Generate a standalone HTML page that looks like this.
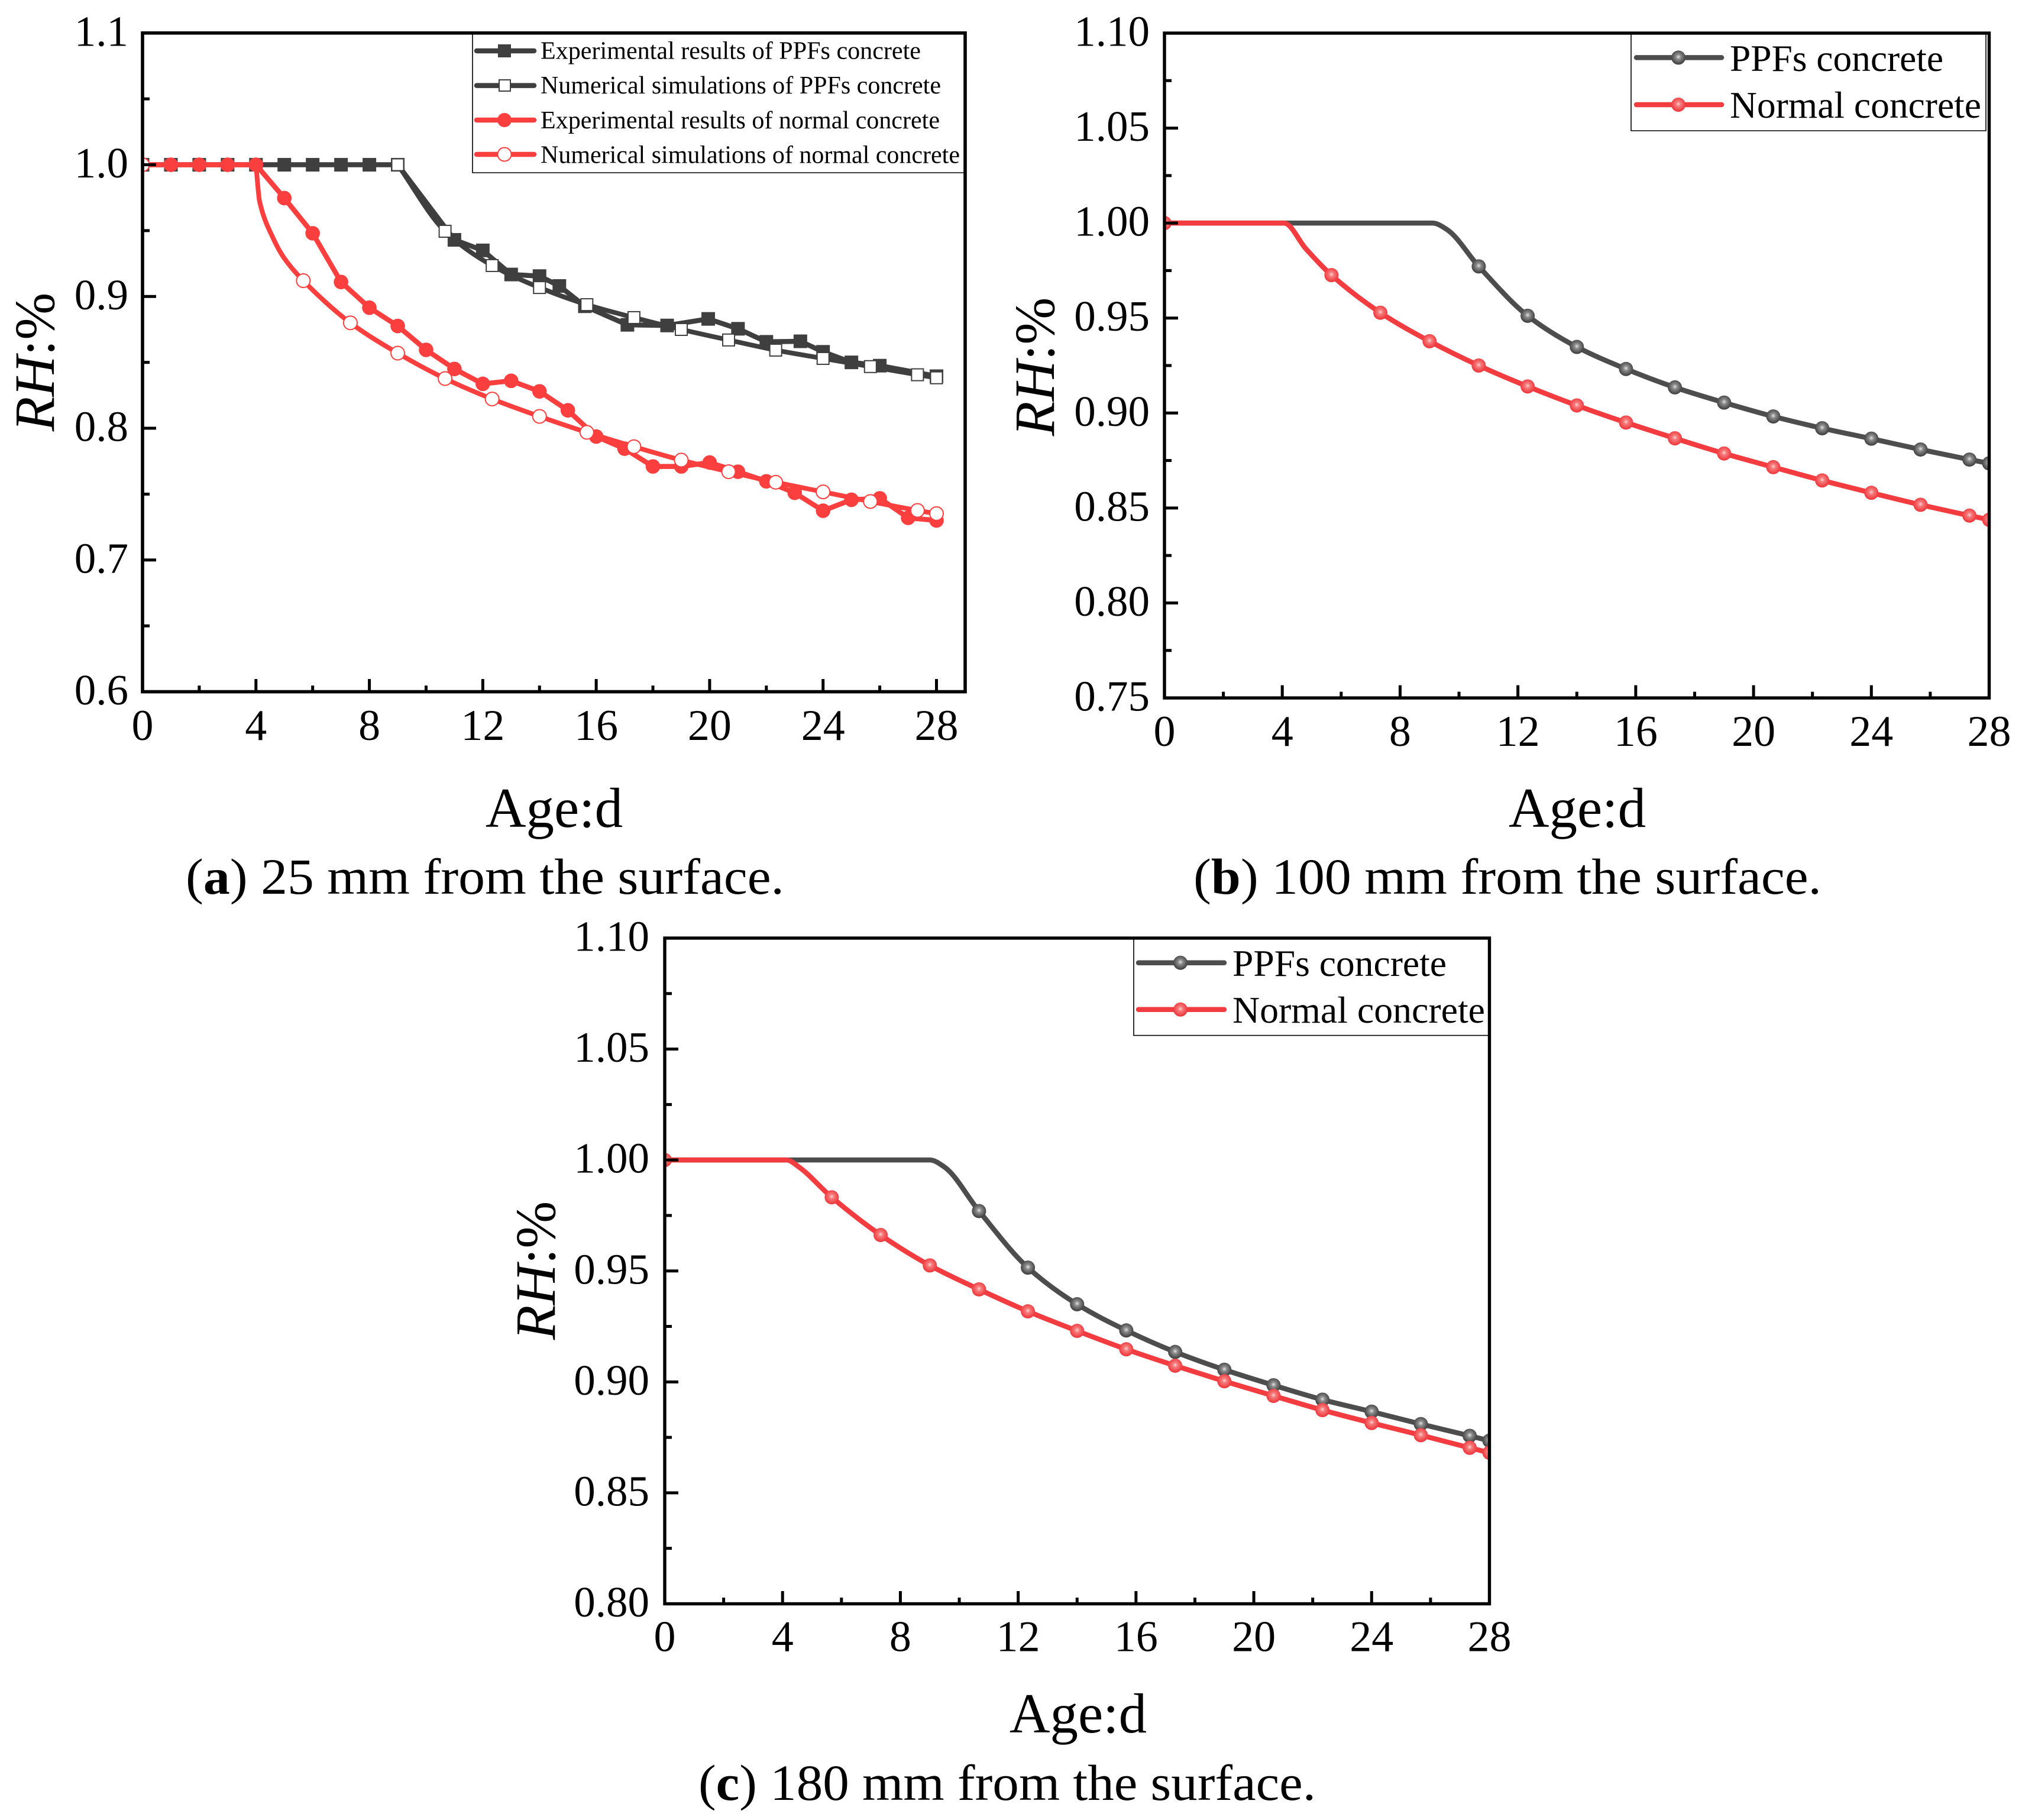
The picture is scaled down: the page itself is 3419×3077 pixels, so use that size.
<!DOCTYPE html>
<html lang="en">
<head>
<meta charset="utf-8">
<title>Relative humidity vs age at three depths</title>
<style>
html,body{margin:0;padding:0;background:#fff;}
svg{display:block;font-family:"Liberation Serif",serif;}
</style>
</head>
<body>
<svg id="figure" xmlns="http://www.w3.org/2000/svg" width="3419" height="3077" viewBox="0 0 3419 3077">
  <defs>
    <radialGradient id="ball-gray" cx="50%" cy="45%" r="55%">
      <stop offset="0%" stop-color="#e4e4e4"/><stop offset="30%" stop-color="#8d8d8d"/><stop offset="100%" stop-color="#3a3a3a"/>
    </radialGradient>
    <radialGradient id="ball-red" cx="50%" cy="45%" r="55%">
      <stop offset="0%" stop-color="#fbd4d4"/><stop offset="30%" stop-color="#f67a7a"/><stop offset="100%" stop-color="#ee3238"/>
    </radialGradient>
    <clipPath id="clip-a"><rect x="241" y="55.8" width="1391" height="1113.7"/></clipPath>
    <clipPath id="clip-b"><rect x="1969" y="56" width="1394.5" height="1124"/></clipPath>
    <clipPath id="clip-c"><rect x="1124" y="1586" width="1394.5" height="1125.5"/></clipPath>
  </defs>
  <rect x="0" y="0" width="3419" height="3077" fill="#fff"/>

  <!-- Panel (a) -->
  <g>
    <g id="a-series" clip-path="url(#clip-a)"></g>
    <g id="a-ticks"></g>
    <rect x="241" y="55.8" width="1391" height="1113.7" fill="none" stroke="#000" stroke-width="5.6"/>
    <text transform="translate(91 612) rotate(-90)" text-anchor="middle" font-size="96"><tspan font-style="italic">RH</tspan>:%</text>
    <text x="937" y="1398" text-anchor="middle" font-size="95">Age:d</text>
    <text x="314" y="1511" font-size="86" textLength="1012" lengthAdjust="spacingAndGlyphs">(<tspan font-weight="bold">a</tspan>) 25 mm from the surface.</text>
    <g>
      <path d="M799 58V292H1630" fill="none" stroke="#000" stroke-width="1.6"/>
      <g>
        <line x1="806" y1="86" x2="903" y2="86" stroke="#3f3f3f" stroke-width="8.5" stroke-linecap="round"/>
        <rect x="842" y="75" width="22" height="22" fill="#3f3f3f"/>
        <text x="914" y="99.5" font-size="42" textLength="643" lengthAdjust="spacingAndGlyphs">Experimental results of PPFs concrete</text>
      </g>
      <g>
        <line x1="806" y1="144.6" x2="903" y2="144.6" stroke="#3f3f3f" stroke-width="8.5" stroke-linecap="round"/>
        <rect x="844" y="135" width="19" height="19" fill="#fff" stroke="#3f3f3f" stroke-width="2"/>
        <text x="914" y="158" font-size="42" textLength="677" lengthAdjust="spacingAndGlyphs">Numerical simulations of PPFs concrete</text>
      </g>
      <g>
        <line x1="806" y1="203" x2="903" y2="203" stroke="#fb3f3f" stroke-width="8.5" stroke-linecap="round"/>
        <circle cx="853" cy="203" r="12" fill="#fb3f3f"/>
        <text x="914" y="217" font-size="42" textLength="675" lengthAdjust="spacingAndGlyphs">Experimental results of normal concrete</text>
      </g>
      <g>
        <line x1="806" y1="261" x2="903" y2="261" stroke="#fb3f3f" stroke-width="8.5" stroke-linecap="round"/>
        <circle cx="853" cy="261" r="11.5" fill="#fff" stroke="#fb3f3f" stroke-width="2"/>
        <text x="914" y="275.5" font-size="42" textLength="709" lengthAdjust="spacingAndGlyphs">Numerical simulations of normal concrete</text>
      </g>
    </g>
  </g>

  <!-- Panel (b) -->
  <g>
    <g id="b-series" clip-path="url(#clip-b)"></g>
    <g id="b-ticks"></g>
    <rect x="1969" y="56" width="1394.5" height="1124" fill="none" stroke="#000" stroke-width="5.4"/>
    <text transform="translate(1782 620) rotate(-90)" text-anchor="middle" font-size="96"><tspan font-style="italic">RH</tspan>:%</text>
    <text x="2667" y="1398" text-anchor="middle" font-size="95">Age:d</text>
    <text x="2018" y="1511" font-size="86" textLength="1062" lengthAdjust="spacingAndGlyphs">(<tspan font-weight="bold">b</tspan>) 100 mm from the surface.</text>
    <g>
      <path d="M2758 58V221H3358V58" fill="none" stroke="#000" stroke-width="1.6"/>
      <g>
        <line x1="2767" y1="97.4" x2="2911" y2="97.4" stroke="#4d4d4d" stroke-width="8.5" stroke-linecap="round"/>
        <circle cx="2838" cy="97.4" r="12" fill="url(#ball-gray)"/>
        <text x="2925" y="120" font-size="63" textLength="361" lengthAdjust="spacingAndGlyphs">PPFs concrete</text>
      </g>
      <g>
        <line x1="2767" y1="177" x2="2911" y2="177" stroke="#f23c40" stroke-width="8.5" stroke-linecap="round"/>
        <circle cx="2838" cy="177" r="12" fill="url(#ball-red)"/>
        <text x="2925" y="199" font-size="63" textLength="425" lengthAdjust="spacingAndGlyphs">Normal concrete</text>
      </g>
    </g>
  </g>

  <!-- Panel (c) -->
  <g>
    <g id="c-series" clip-path="url(#clip-c)"></g>
    <g id="c-ticks"></g>
    <rect x="1124" y="1586" width="1394.5" height="1125.5" fill="none" stroke="#000" stroke-width="5.4"/>
    <text transform="translate(938 2148) rotate(-90)" text-anchor="middle" font-size="96"><tspan font-style="italic">RH</tspan>:%</text>
    <text x="1823" y="2929" text-anchor="middle" font-size="95">Age:d</text>
    <text x="1181" y="3043" font-size="86" textLength="1044" lengthAdjust="spacingAndGlyphs">(<tspan font-weight="bold">c</tspan>) 180 mm from the surface.</text>
    <g>
      <path d="M1917 1588V1750.6H2516" fill="none" stroke="#000" stroke-width="1.6"/>
      <g>
        <line x1="1925" y1="1627.7" x2="2070" y2="1627.7" stroke="#4d4d4d" stroke-width="8.5" stroke-linecap="round"/>
        <circle cx="1996" cy="1627.7" r="12" fill="url(#ball-gray)"/>
        <text x="2084" y="1650" font-size="63" textLength="362" lengthAdjust="spacingAndGlyphs">PPFs concrete</text>
      </g>
      <g>
        <line x1="1925" y1="1706.8" x2="2070" y2="1706.8" stroke="#f23c40" stroke-width="8.5" stroke-linecap="round"/>
        <circle cx="1996" cy="1706.8" r="12" fill="url(#ball-red)"/>
        <text x="2084" y="1729" font-size="63" textLength="427" lengthAdjust="spacingAndGlyphs">Normal concrete</text>
      </g>
    </g>
  </g>
</svg>

<script>
// ---------- shared axis categories ----------
const ageMajorTicks = [0, 4, 8, 12, 16, 20, 24, 28];
const ageMinorTicks = [2, 6, 10, 14, 18, 22, 26];
const simDays = [10.67, 12.33, 14, 15.67, 17.33, 19, 20.67, 22.33, 24, 25.67, 27.33, 28];

// ---------- panel (a) ----------
const aRhMajorTicks = ['0.6', '0.7', '0.8', '0.9', '1.0', '1.1'];
const aRhMinorTicks = [0.65, 0.75, 0.85, 0.95, 1.05];
const aExpPpfDays = [0, 1, 2, 3, 4, 5, 6, 7, 8, 9, 11, 12, 13, 14, 14.7, 15.6, 17.1, 18.5, 19.95, 21, 22, 23.2, 24, 25, 26, 28];
const aExpPpfValues = [1, 1, 1, 1, 1, 1, 1, 1, 1, 1, 0.943, 0.935, 0.9167, 0.9155, 0.908, 0.8926, 0.8785, 0.878, 0.883, 0.8755, 0.8656, 0.866, 0.858, 0.85, 0.8475, 0.8395];
const aSimPpfHeadDays = [0, 9];
const aSimPpfHeadValues = [1, 1];
const aSimPpfValues = [0.9495, 0.9235, 0.9068, 0.8938, 0.884, 0.875, 0.867, 0.8593, 0.853, 0.8468, 0.8406, 0.8383];
const aExpNormalDays = [0, 1, 2, 3, 4, 5, 6, 7, 8, 9, 10, 11, 12, 13, 14, 15, 16, 17, 18, 19, 20, 21, 22, 23, 24, 25, 26, 27, 28];
const aExpNormalValues = [1, 1, 1, 1, 1, 0.9747, 0.948, 0.911, 0.8915, 0.8776, 0.8595, 0.845, 0.8337, 0.836, 0.828, 0.8136, 0.7937, 0.7845, 0.771, 0.771, 0.774, 0.767, 0.7597, 0.751, 0.7374, 0.7457, 0.7468, 0.732, 0.73];
const aSimNormalDays = [0, 5.67, 7.33, 9, 10.67, 12.33, 14, 15.67, 17.33, 19, 20.67, 22.33, 24, 25.67, 27.33, 28];
const aSimNormalValues = [1, 0.912, 0.88, 0.857, 0.8377, 0.8222, 0.809, 0.7969, 0.786, 0.7758, 0.767, 0.759, 0.7517, 0.7444, 0.7376, 0.7352];
const aSimNormalKneeDays = [4, 4.13, 4.59, 5];
const aSimNormalKneeValues = [1, 0.972, 0.945, 0.929];

// ---------- panel (b) ----------
const bRhMajorTicks = ['0.75', '0.80', '0.85', '0.90', '0.95', '1.00', '1.05', '1.10'];
const bRhMinorTicks = [0.775, 0.825, 0.875, 0.925, 0.975, 1.025, 1.075];
const bPpfValues = [0.9772, 0.9512, 0.9348, 0.9232, 0.9135, 0.9055, 0.8982, 0.892, 0.8865, 0.8808, 0.8755, 0.8735];
const bPpfKneeDays = [0, 9.1, 9.6];
const bPpfKneeValues = [1, 1, 0.9965];
const bNormalDays = [0, 5.67, 7.33, 9, 10.67, 12.33, 14, 15.67, 17.33, 19, 20.67, 22.33, 24, 25.67, 27.33, 28];
const bNormalValues = [1, 0.9726, 0.9528, 0.9378, 0.925, 0.914, 0.904, 0.895, 0.8867, 0.8787, 0.8715, 0.8645, 0.858, 0.8517, 0.846, 0.8438];
const bNormalKneeDays = [4.06, 4.8];
const bNormalKneeValues = [1, 0.9865];

// ---------- panel (c) ----------
const cRhMajorTicks = ['0.80', '0.85', '0.90', '0.95', '1.00', '1.05', '1.10'];
const cRhMinorTicks = [0.825, 0.875, 0.925, 0.975, 1.025, 1.075];
const cPpfValues = [0.977, 0.9515, 0.935, 0.9232, 0.9135, 0.9055, 0.8985, 0.892, 0.8866, 0.881, 0.8757, 0.8735];
const cPpfKneeDays = [0, 9.0, 9.5];
const cPpfKneeValues = [1, 1, 0.9968];
const cNormalDays = [0, 5.67, 7.33, 9, 10.67, 12.33, 14, 15.67, 17.33, 19, 20.67, 22.33, 24, 25.67, 27.33, 28];
const cNormalValues = [1, 0.9832, 0.9662, 0.9525, 0.9417, 0.9318, 0.923, 0.9147, 0.9073, 0.9003, 0.8937, 0.8873, 0.8815, 0.876, 0.8703, 0.8681];
const cNormalKneeDays = [4.14, 4.56];
const cNormalKneeValues = [1, 0.9968];

// ---------- helpers ----------
const SVG_NS = 'http://www.w3.org/2000/svg';
function make(tag, attrs, parent) {
  const node = document.createElementNS(SVG_NS, tag);
  for (const key in attrs) node.setAttribute(key, attrs[key]);
  parent.appendChild(node);
  return node;
}
function linearScale(d0, d1, r0, r1) {
  return function (v) { return r0 + (v - d0) * (r1 - r0) / (d1 - d0); };
}
function straightPath(pts) {
  return pts.map(function (p, i) { return (i ? 'L' : 'M') + p[0].toFixed(2) + ' ' + p[1].toFixed(2); }).join('');
}
function monotonePath(pts, sharpKnee) {
  const n = pts.length, dx = [], m = [], t = [];
  for (let i = 0; i < n - 1; i++) {
    dx[i] = pts[i + 1][0] - pts[i][0];
    m[i] = (pts[i + 1][1] - pts[i][1]) / dx[i];
  }
  t[0] = m[0];
  t[n - 1] = m[n - 2];
  for (let i = 1; i < n - 1; i++) {
    if (sharpKnee && m[i - 1] === 0) {
      t[i] = m[i];
    } else {
      t[i] = m[i - 1] * m[i] <= 0 ? 0 : 2 * m[i - 1] * m[i] / (m[i - 1] + m[i]);
    }
  }
  let d = 'M' + pts[0][0].toFixed(2) + ' ' + pts[0][1].toFixed(2);
  for (let i = 0; i < n - 1; i++) {
    if (sharpKnee && m[i] === 0) {
      d += 'L' + pts[i + 1][0].toFixed(2) + ' ' + pts[i + 1][1].toFixed(2);
      continue;
    }
    const h = dx[i] / 3;
    d += 'C' + (pts[i][0] + h).toFixed(2) + ' ' + (pts[i][1] + t[i] * h).toFixed(2) + ' ' +
      (pts[i + 1][0] - h).toFixed(2) + ' ' + (pts[i + 1][1] - t[i + 1] * h).toFixed(2) + ' ' +
      pts[i + 1][0].toFixed(2) + ' ' + pts[i + 1][1].toFixed(2);
  }
  return d;
}
function mergeVertices(days1, vals1, days2, vals2) {
  const merged = [];
  days1.forEach(function (d, i) { merged.push([d, vals1[i]]); });
  days2.forEach(function (d, i) { merged.push([d, vals2[i]]); });
  merged.sort(function (p, q) { return p[0] - q[0]; });
  return merged;
}

function drawAxes(panel) {
  const parent = document.getElementById(panel.id + '-ticks');
  ageMajorTicks.forEach(function (d) {
    const tick = make('line', { x1: panel.x(d), x2: panel.x(d), y1: panel.bottom, y2: panel.bottom - 21.5, stroke: '#000', 'stroke-width': 5 }, parent);
    
    
    const label = make('text', { x: panel.x(d), y: panel.xLabelY, 'text-anchor': 'middle', 'font-size': 74 }, parent);
    label.textContent = String(d);
    
    
  });
  ageMinorTicks.forEach(function (d) {
    const tick = make('line', { x1: panel.x(d), x2: panel.x(d), y1: panel.bottom, y2: panel.bottom - 10.5, stroke: '#000', 'stroke-width': 5 }, parent);
    
    
  });
  panel.majorTicks.forEach(function (text) {
    const v = parseFloat(text);
    const tick = make('line', { x1: panel.left, x2: panel.left + 23, y1: panel.y(v), y2: panel.y(v), stroke: '#000', 'stroke-width': 5 }, parent);
    
    
    const label = make('text', { x: panel.yLabelX, y: panel.y(v) + 21.5, 'text-anchor': 'end', 'font-size': 73 }, parent);
    label.textContent = text;
    
    
  });
  panel.minorTicks.forEach(function (v) {
    const tick = make('line', { x1: panel.left, x2: panel.left + 12, y1: panel.y(v), y2: panel.y(v), stroke: '#000', 'stroke-width': 5 }, parent);
    
    
  });
}

function drawMarker(group, kind, color, px, py) {
  let mark;
  if (kind === 'filled-square') {
    mark = make('rect', { x: px - 11.5, y: py - 11.5, width: 23, height: 23, fill: color }, group);
  } else if (kind === 'open-square') {
    mark = make('rect', { x: px - 10, y: py - 10, width: 20, height: 20, fill: '#fff', stroke: color, 'stroke-width': 2 }, group);
  } else if (kind === 'filled-circle') {
    mark = make('circle', { cx: px, cy: py, r: 12.3, fill: color }, group);
  } else if (kind === 'open-circle') {
    mark = make('circle', { cx: px, cy: py, r: 11.5, fill: '#fff', stroke: color, 'stroke-width': 2 }, group);
  } else {
    mark = make('circle', { cx: px, cy: py, r: 12, fill: 'url(#' + kind + ')' }, group);
  }
  
  
}

function drawSeries(panel, seriesName, style, vertices, markerDays, markerValues) {
  const parent = document.getElementById(panel.id + '-series');
  const group = make('g', {}, parent);
  
  
  const pts = vertices.map(function (p) { return [panel.x(p[0]), panel.y(p[1])]; });
  const d = style.smooth ? monotonePath(pts, style.sharpKnee) : straightPath(pts);
  const line = make('path', { d: d, fill: 'none', stroke: style.color, 'stroke-width': style.width, 'stroke-linejoin': 'round' }, group);
  
  
  markerDays.forEach(function (day, i) {
    drawMarker(group, style.marker, style.color, panel.x(day), panel.y(markerValues[i]));
  });
}

// ---------- panels ----------
const panelA = { id: 'a', left: 241, bottom: 1169.5, xLabelY: 1251, yLabelX: 217,
  x: linearScale(0, 28, 241, 1583.5), y: linearScale(0.6, 1.1, 1169.5, 55.8),
  majorTicks: aRhMajorTicks, minorTicks: aRhMinorTicks };
const panelB = { id: 'b', left: 1969, bottom: 1180, xLabelY: 1261, yLabelX: 1944,
  x: linearScale(0, 28, 1969, 3363.5), y: linearScale(0.75, 1.1, 1180, 56),
  majorTicks: bRhMajorTicks, minorTicks: bRhMinorTicks };
const panelC = { id: 'c', left: 1124, bottom: 2711.5, xLabelY: 2791.7, yLabelX: 1098,
  x: linearScale(0, 28, 1124, 2518.5), y: linearScale(0.8, 1.1, 2711.5, 1586),
  majorTicks: cRhMajorTicks, minorTicks: cRhMinorTicks };

[panelA, panelB, panelC].forEach(drawAxes);

const BLACK = '#3f3f3f', RED = '#fb3f3f', GRAY = '#4d4d4d', CRIMSON = '#f23c40';

// Panel (a)
drawSeries(panelA, 'experimental-ppfs-series', { color: BLACK, width: 8.5, marker: 'filled-square' },
  mergeVertices(aExpPpfDays, aExpPpfValues, [], []), aExpPpfDays, aExpPpfValues);
drawSeries(panelA, 'numerical-ppfs-series', { color: BLACK, width: 8, marker: 'open-square', smooth: true, sharpKnee: true },
  mergeVertices(aSimPpfHeadDays, aSimPpfHeadValues, simDays, aSimPpfValues),
  aSimPpfHeadDays.concat(simDays), aSimPpfHeadValues.concat(aSimPpfValues));
drawSeries(panelA, 'experimental-normal-series', { color: RED, width: 8.5, marker: 'filled-circle' },
  mergeVertices(aExpNormalDays, aExpNormalValues, [], []), aExpNormalDays, aExpNormalValues);
drawSeries(panelA, 'numerical-normal-series', { color: RED, width: 8, marker: 'open-circle', smooth: true, sharpKnee: true },
  mergeVertices(aSimNormalDays, aSimNormalValues, aSimNormalKneeDays, aSimNormalKneeValues), aSimNormalDays, aSimNormalValues);

// Panel (b)
drawSeries(panelB, 'ppfs-concrete-series', { color: GRAY, width: 8.5, marker: 'ball-gray', smooth: true },
  mergeVertices(simDays, bPpfValues, bPpfKneeDays, bPpfKneeValues), simDays, bPpfValues);
drawSeries(panelB, 'normal-concrete-series', { color: CRIMSON, width: 8.5, marker: 'ball-red', smooth: true },
  mergeVertices(bNormalDays, bNormalValues, bNormalKneeDays, bNormalKneeValues), bNormalDays, bNormalValues);

// Panel (c)
drawSeries(panelC, 'ppfs-concrete-series', { color: GRAY, width: 8.5, marker: 'ball-gray', smooth: true },
  mergeVertices(simDays, cPpfValues, cPpfKneeDays, cPpfKneeValues), simDays, cPpfValues);
drawSeries(panelC, 'normal-concrete-series', { color: CRIMSON, width: 8.5, marker: 'ball-red', smooth: true },
  mergeVertices(cNormalDays, cNormalValues, cNormalKneeDays, cNormalKneeValues), cNormalDays, cNormalValues);
</script>
</body>
</html>
